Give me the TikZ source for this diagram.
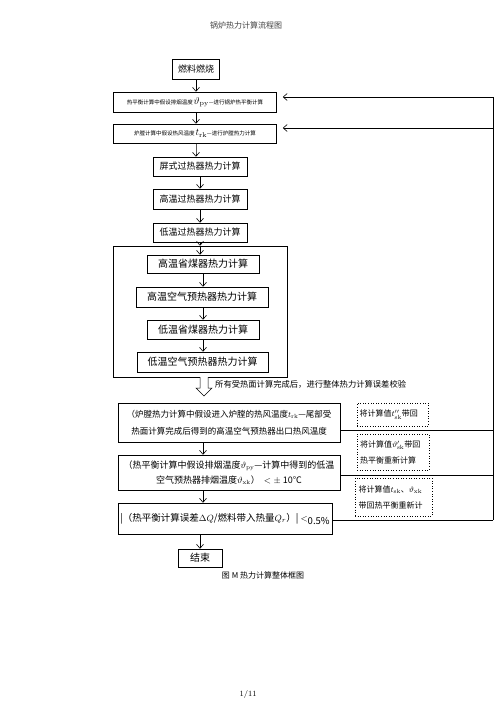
\documentclass[tikz,border=0pt]{standalone}
\usepackage{fontspec}
\newfontfamily\cjk{Noto Sans CJK SC}
\usetikzlibrary{arrows.meta}
\begin{document}
\begin{tikzpicture}[x=1pt,y=-1pt,
  every node/.style={font=\cjk\fontsize{9}{11}\selectfont, inner sep=0pt},
  box/.style={draw, line width=0.5pt, minimum height=19pt, align=center},
  dbox/.style={draw, dotted, line width=0.6pt, align=left, font=\cjk\fontsize{8}{16}\selectfont},
  arr/.style={-{Straight Barb[length=4pt,width=7pt]}, line width=0.6pt},
  ln/.style={line width=0.5pt}]
\useasboundingbox (0,0) rectangle (503,711);
\node[font=\cjk\fontsize{8}{10}\selectfont, text=black!75] (title) at (246,25) {锅炉热力计算流程图};
% top chain
\node[box, minimum width=47pt, minimum height=20pt] (fuel) at (196,69) {燃料燃烧};
\node[box, minimum width=163pt, minimum height=20pt, font=\cjk\fontsize{5.5}{7}\selectfont] (b2) at (195,102) {热平衡计算中假设排烟温度\,{\fontsize{10}{10}\selectfont$\vartheta_{\rm py}$}—进行锅炉热平衡计算};
\node[box, minimum width=163pt, font=\cjk\fontsize{5.5}{7}\selectfont] (b3) at (195,133.5) {炉膛计算中假设热风温度\,{\fontsize{10}{10}\selectfont$t_{\rm rk}$}—进行炉膛热力计算};
\node[box, minimum width=94pt] (b4) at (200,166.5) {屏式过热器热力计算};
\node[box, minimum width=94pt, minimum height=20pt] (b5) at (200,199) {高温过热器热力计算};
\node[box, minimum width=94pt] (b6) at (200,232.5) {低温过热器热力计算};
% big box
\node[draw, line width=0.5pt, minimum width=174pt, minimum height=131pt] (big) at (200,311.5) {};
\node[box, minimum width=112pt, minimum height=18pt, font=\cjk\fontsize{10}{12}\selectfont] (b7) at (203,264) {高温省煤器热力计算};
\node[box, minimum width=132pt, minimum height=20pt, font=\cjk\fontsize{10}{12}\selectfont] (b8) at (202,297) {高温空气预热器热力计算};
\node[box, minimum width=112pt, font=\cjk\fontsize{10}{12}\selectfont] (b9) at (203,329.5) {低温省煤器热力计算};
\node[box, minimum width=131pt, minimum height=20pt, font=\cjk\fontsize{10}{12}\selectfont] (b10) at (202.5,362) {低温空气预热器热力计算};
% arrows
\draw[arr] (fuel.south) -- (fuel.south |- b2.north);
\draw[arr] (fuel.south |- b2.south) -- (fuel.south |- b3.north);
\draw[arr] (fuel.south |- b3.south) -- ++(0,10) coordinate (c1) -- (c1 |- b4.north);
\draw[arr] (b4.south) -- (b5.north);
\draw[arr] (b5.south) -- (b6.north);
\draw[arr] (b6.south) -- (b6.south |- big.north);
\draw[arr] (b7.south) -- (b7.south |- b8.north);
\draw[arr] (b7.south |- b8.south) -- (b7.south |- b9.north);
\draw[arr] (b9.south) -- (b9.south |- b10.north);
\draw[arr] (b6.south |- big.north) -- (b6.south |- b7.north);
% hollow arrow
\coordinate (ha) at (204,377);
\draw[ln, fill=white] (200,377) -- (200,388) -- (196,388) -- (204,396) -- (212,388) -- (208,388) -- (208,377);
\node[anchor=west, font=\cjk\fontsize{8.3}{10}\selectfont] (note) at (215,384) {所有受热面计算完成后，进行整体热力计算误差校验};
% check boxes
\node[box, minimum width=222pt, minimum height=39pt, font=\cjk\fontsize{8.5}{17}\selectfont] (b11) at (229,422.5) {（炉膛热力计算中假设进入炉膛的热风温度$t_{\rm rk}$—尾部受\\热面计算完成后得到的高温空气预热器出口热风温度};
\node[box, minimum width=222pt, minimum height=35pt, font=\cjk\fontsize{9}{15}\selectfont] (b13) at (229,472.5) {（热平衡计算中假设排烟温度$\vartheta_{\rm py}$—计算中得到的低温\\空气预热器排烟温度$\vartheta_{\rm xk}$）\ \ $<\pm$ 10℃};
\node[box, minimum width=214pt, minimum height=31pt, font=\cjk\fontsize{9.5}{12}\selectfont] (b15) at (225,518.5) {|（热平衡计算误差$\Delta Q$/燃料带入热量$Q_r$）| $<$\raisebox{-3pt}{0.5\%}};
\node[box, minimum width=44pt, minimum height=18pt, font=\cjk\fontsize{10}{12}\selectfont] (end) at (200,558) {结束};
\draw[arr] (b11.south -| 203,0) coordinate (c2) -- (c2 |- b13.north);
\draw[arr] (b13.south -| 203,0) coordinate (c3) -- (c3 |- b15.north);
\draw[arr] (b15.south -| 200,0) coordinate (c4) -- (c4 |- end.north);
\node[font=\cjk\fontsize{8}{10}\selectfont] (cap) at (263,575) {图 M 热力计算整体框图};
% dotted note boxes
\node[dbox, minimum width=71pt, minimum height=23pt, text width=66pt] (d1) at (392.5,414.5) {将计算值$t''_{\rm sk}$带回};
\node[dbox, minimum width=72pt, minimum height=36pt, text width=66pt] (d2) at (393,452) {将计算值$\vartheta'_{\rm sk}$带回\\热平衡重新计算};
\node[dbox, minimum width=77pt, minimum height=38pt, text width=70pt] (d3) at (393.5,497) {将计算值$t_{\rm sk}$、$\vartheta_{\rm xk}$\\带回热平衡重新计};
% feedback lines
\coordinate (r1) at (493,430);
\coordinate (r2) at (493,475);
\coordinate (r3) at (493,520);
\coordinate (t2) at (493,97);
\coordinate (t3) at (493,128);
\draw[ln] (b11.east |- r1) -- (r1);
\draw[ln] (b13.east |- r2) -- (r2);
\draw[ln] (b15.east |- r3) -- (r3);
\draw[ln] (r3) -- (t2);
\draw[arr, shorten >=6pt] (t2) -- (b2.east |- t2);
\draw[arr, shorten >=6pt] (t3) -- (b3.east |- t3);
\node[font=\fontsize{8}{10}\selectfont] (page) at (248,694) {1/11};
\end{tikzpicture}
\end{document}
